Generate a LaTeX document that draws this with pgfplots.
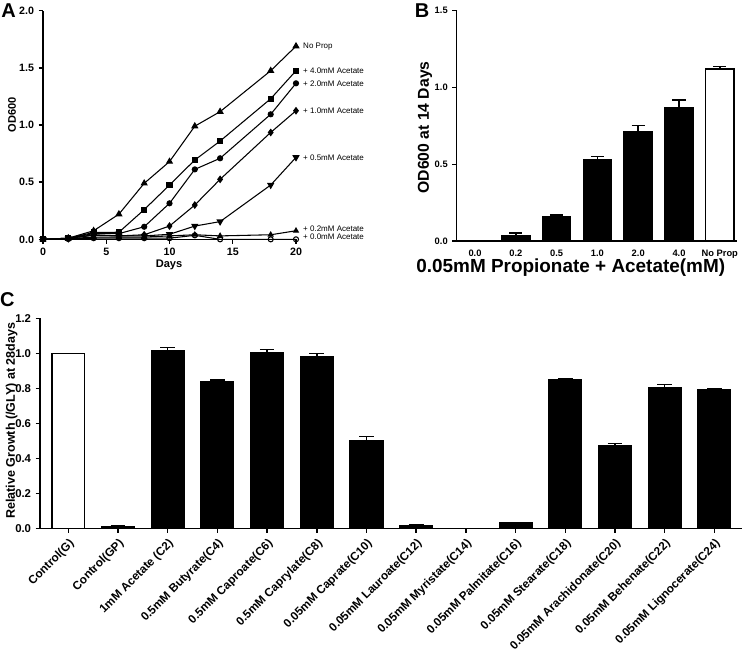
\documentclass[border=0pt]{standalone}
\usepackage{fontspec}
\setmainfont{Liberation Sans}
\usepackage{pgfplots}
\pgfplotsset{compat=1.18}
\usepackage{pgfplotstable}

\pgfplotstableread{
day  noprop  c40    c20    c10    c05    c02    c00
0    0.000   0.000  0.000  0.000  0.000  0.000  0.000
2    0.010   0.010  0.010  0.008  0.008  0.005  0.003
4    0.075   0.060  0.050  0.035  0.040  0.020  0.010
6    0.220   0.062  0.050  0.030  0.030  0.020  0.010
8    0.490   0.260  0.110  0.040  0.030  0.020  0.010
10   0.680   0.475  0.315  0.116  0.044  0.030  0.010
12   0.990   0.694  0.612  0.300  0.116  0.040  0.035
14   1.117   0.860  0.709  0.525  0.155  0.030  0.000
18   1.475   1.230  1.094  0.935  0.475  0.040  0.000
20   1.690   1.475  1.365  1.125  0.717  0.075  0.000
}\growth

\pgfplotstableread{
x  val    err
0  0.003  0.000
1  0.033  0.019
2  0.159  0.011
3  0.533  0.019
4  0.711  0.043
5  0.867  0.050
}\bdata
\pgfplotstableread{
x  val    err
6  1.120  0.017
}\bnoprop

\pgfplotstableread{
x   val    err
1   0.012  0.004
2   1.015  0.019
3   0.838  0.010
4   1.004  0.019
5   0.981  0.019
6   0.504  0.021
7   0.016  0.005
8   0.000  0.000
9   0.032  0.003
10  0.852  0.002
11  0.471  0.016
12  0.804  0.017
13  0.791  0.007
}\cdata
\pgfplotstableread{
x  val    err
0  1.000  0.000
}\cctrl

\pgfplotsset{
  prism/.style={
    scale only axis,
    axis x line*=bottom, axis y line*=left,
    axis line style={line width=1.1pt,-},
    tick align=outside,
    major tick length=3.2pt,
    major tick style={black, line width=1.1pt},
    /pgf/number format/assume math mode=true,
    tick label style={font=\bfseries\fontsize{7}{8}\selectfont},
    y tick label style={/pgf/number format/fixed,/pgf/number format/fixed zerofill,/pgf/number format/precision=1},
  },
}

\begin{document}
\begin{tikzpicture}
\path[use as bounding box] (0,0) rectangle (558.75pt,490.5pt);

% ---------- Panel A ----------
\begin{axis}[prism,
  at={(32.25pt,311pt)}, anchor=south west,
  width=189.75pt, height=171.45pt,
  xmin=0, xmax=20, ymin=0, ymax=2,
  xtick={0,5,10,15,20},
  ytick={0,0.5,1,1.5,2},
  tick label style={font=\bfseries\fontsize{8}{9}\selectfont},
  xlabel={Days}, ylabel={OD600},
  xlabel style={font=\bfseries\fontsize{8.3}{9}\selectfont, at={(axis description cs:0.498,-0.112)}, anchor=center},
  ylabel style={font=\bfseries\fontsize{8.3}{9}\selectfont, at={(axis description cs:-0.1225,0.544)}, anchor=center},
  clip=false,
  every axis plot/.append style={black, line width=0.8pt},
]
\addplot[mark=triangle*, mark size=2.4pt] table[x=day,y=noprop]{\growth};
\addplot[mark=square*, mark size=1.9pt] table[x=day,y=c40]{\growth};
\addplot[mark=*, mark size=1.9pt] table[x=day,y=c20]{\growth};
\addplot[mark=diamond*, mark size=2.3pt] table[x=day,y=c10]{\growth};
\addplot[mark=triangle*, mark size=2.4pt, mark options={rotate=180}] table[x=day,y=c05]{\growth};
\addplot[mark=triangle*, mark size=2.0pt] table[x=day,y=c02]{\growth};
\addplot[mark=o, mark size=1.9pt, mark options={fill=white}] table[x=day,y=c00]{\growth};
\begin{scope}[every node/.style={anchor=west, inner sep=0pt, font=\fontsize{6}{7}\selectfont}]
\node at (axis cs:20.55,1.69) {No Prop};
\node at (axis cs:20.55,1.475) {+ 4.0mM Acetate};
\node at (axis cs:20.55,1.36) {+ 2.0mM Acetate};
\node at (axis cs:20.55,1.125) {+ 1.0mM Acetate};
\node at (axis cs:20.55,0.717) {+ 0.5mM Acetate};
\node at (axis cs:20.55,0.090) {+ 0.2mM Acetate};
\node at (axis cs:20.55,0.022) {+ 0.0mM Acetate};
\end{scope}
\end{axis}

% ---------- Panel B ----------
\begin{axis}[prism,
  at={(342.5pt,309.75pt)}, anchor=south west,
  width=210.2pt, height=172.7pt,
  xmin=-0.45, xmax=6.42, ymin=0, ymax=1.5,
  xtick={0,1,2,3,4,5,6},
  xticklabels={0.0,0.2,0.5,1.0,2.0,4.0,No Prop},
  xtick style={draw=none},
  ytick={0,0.5,1,1.5},
  xlabel={0.05mM Propionate + Acetate(mM)},
  ylabel={OD600 at 14 Days},
  xlabel style={font=\bfseries\fontsize{14.2}{15}\selectfont, at={(axis description cs:0.407,-0.117)}, anchor=center},
  ylabel style={font=\bfseries\fontsize{11.8}{13}\selectfont, at={(axis description cs:-0.113,0.493)}, anchor=center},
  ybar, bar width=0.69, bar shift=0pt,
  clip=false,
]
\addplot[fill=black, draw=black, line width=1pt,
  error bars/.cd, y dir=plus, y explicit,
  error bar style={line width=1.1pt, black},
  error mark options={rotate=90, mark size=5pt, line width=1.1pt}]
  table[x=x, y=val, y error=err]{\bdata};
\addplot[fill=white, draw=black, line width=1.1pt,
  error bars/.cd, y dir=plus, y explicit,
  error bar style={line width=1.1pt, black},
  error mark options={rotate=90, mark size=5pt, line width=1.1pt}]
  table[x=x, y=val, y error=err]{\bnoprop};
\end{axis}

% ---------- Panel C ----------
\begin{axis}[prism,
  at={(30pt,94pt)}, anchor=south west,
  width=526.3pt, height=157.8pt,
  xmin=-0.57, xmax=13.55, ymin=0, ymax=1.2,
  xtick={0,1,...,13},
  xticklabels={Control(G),Control(GP),1mM Acetate (C2),0.5mM Butyrate(C4),0.5mM Caproate(C6),0.5mM Caprylate(C8),0.05mM Caprate(C10),0.05mM Lauroate(C12),0.05mM Myristate(C14),0.05mM Palmitate(C16),0.05mM Stearate(C18),0.05mM Arachidonate(C20),0.05mM Behenate(C22),0.05mM Lignocerate(C24)},
  xticklabel style={rotate=45, anchor=north east, inner sep=2.5pt, font=\bfseries\fontsize{8.8}{10}\selectfont},
  ytick={0,0.2,0.4,0.6,0.8,1.0,1.2},
  yticklabel style={font=\bfseries\fontsize{8.5}{9}\selectfont},
  ylabel={Relative Growth (/GLY) at 28days},
  ylabel style={font=\bfseries\fontsize{9.4}{11}\selectfont, at={(axis description cs:-0.0403,0.513)}, anchor=center},
  ybar, bar width=0.66, bar shift=0pt,
  clip=false,
]
\addplot[fill=white, draw=black, line width=1.1pt]
  table[x=x, y=val]{\cctrl};
\addplot[fill=black, draw=black, line width=1pt,
  error bars/.cd, y dir=plus, y explicit,
  error bar style={line width=1.1pt, black},
  error mark options={rotate=90, mark size=5.5pt, line width=1.1pt}]
  table[x=x, y=val, y error=err]{\cdata};
\end{axis}

\node[font=\bfseries\fontsize{15}{15}\selectfont] at (6.5pt,482.5pt) {A};
\node[font=\bfseries\fontsize{15}{15}\selectfont] at (316.5pt,482.5pt) {B};
\node[font=\bfseries\fontsize{15}{15}\selectfont] at (5.5pt,265.5pt) {C};
\end{tikzpicture}
\end{document}
